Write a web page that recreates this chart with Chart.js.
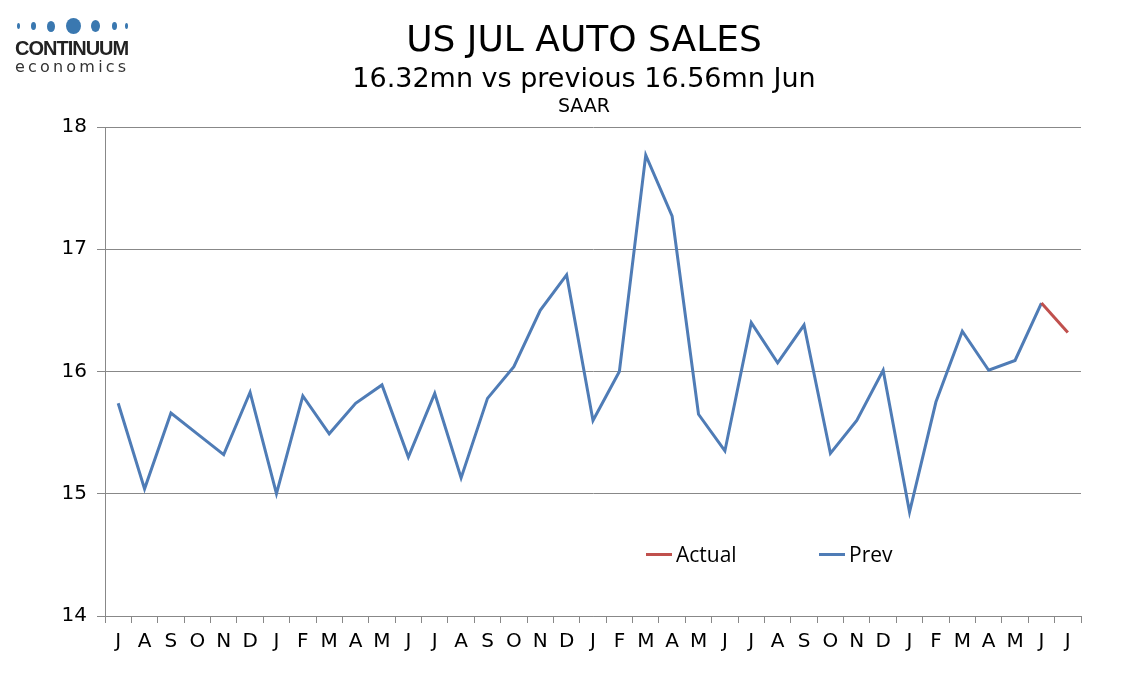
<!DOCTYPE html>
<html>
<head>
<meta charset="utf-8">
<script src="https://cdn.jsdelivr.net/npm/chart.js@4/dist/chart.umd.min.js"></script>
<style>
  html, body { margin: 0; padding: 0; background: #fff; }
  #wrap { position: relative; width: 1134px; height: 680px; font-family: "DejaVu Sans", Verdana, sans-serif; color: #000; }
  canvas { position: absolute; left: 0; top: 0; }
  .t { position: absolute; left: 0; width: 1168px; text-align: center; white-space: nowrap; }
  #title { top: 18px; font-size: 36px; }
  #sub { top: 62px; font-size: 27px; }
  #saar { top: 94px; font-size: 19px; }
  #logo { position: absolute; left: 15px; top: 17px; width: 118px; }
  #dots { position: relative; height: 18px; }
  #dots span { position: absolute; background: #3a78b0; border-radius: 50%; }
  #brand { font-family: "Liberation Sans", Arial, sans-serif; font-weight: bold; font-size: 20px; letter-spacing: -1px; color: #222; line-height: 20px; margin-top: 3px; }
  #econ { font-family: "DejaVu Sans", sans-serif; font-size: 16px; letter-spacing: 3.2px; color: #333; line-height: 17px; }
  .leg { position: absolute; top: 540px; font-size: 21px; font-family: "Open Sans", "DejaVu Sans", sans-serif; display: flex; align-items: center; }
  .leg i { display: inline-block; width: 26px; height: 3px; margin-right: 4px; }
</style>
</head>
<body>
<div id="wrap">
  <canvas id="c" width="1134" height="680"></canvas>
  <div id="logo">
    <div id="dots"></div>
    <div id="brand">CONTINUUM</div>
    <div id="econ">economics</div>
  </div>
  <div class="t" id="title">US JUL AUTO SALES</div>
  <div class="t" id="sub">16.32mn vs previous 16.56mn Jun</div>
  <div class="t" id="saar">SAAR</div>
  <div class="leg" style="left:646px"><i style="background:#c0504d"></i>Actual</div>
  <div class="leg" style="left:819px"><i style="background:#4f7cb6"></i>Prev</div>
</div>
<script>
const months = ['J','A','S','O','N','D','J','F','M','A','M','J','J','A','S','O','N','D',
  'J','F','M','A','M','J','J','A','S','O','N','D','J','F','M','A','M','J','J'];

const prevValues = [15.74, 15.04, 15.66, 15.49, 15.32, 15.83, 15.00, 15.80, 15.49, 15.74,
  15.89, 15.30, 15.82, 15.13, 15.78, 16.04, 16.50, 16.79, 15.60, 16.00, 17.77, 17.27,
  15.65, 15.35, 16.40, 16.07, 16.38, 15.33, 15.60, 16.01, 14.85, 15.75, 16.33, 16.01,
  16.09, 16.56, null];

const actualValues = [null, null, null, null, null, null, null, null, null, null, null,
  null, null, null, null, null, null, null, null, null, null, null, null, null, null,
  null, null, null, null, null, null, null, null, null, null, 16.56, 16.32];

const yTicks = [14, 15, 16, 17, 18];

// logo dots
const dotSpecs = [[2, 3, 6], [16, 5, 8], [32, 8, 11], [51, 15, 16], [76, 9, 12], [97, 5, 8], [110, 3, 6]];
const dots = document.getElementById('dots');
dotSpecs.forEach(([x, w, h]) => {
  const s = document.createElement('span');
  s.style.left = x + 'px';
  s.style.width = w + 'px';
  s.style.height = h + 'px';
  s.style.top = (9 - h / 2) + 'px';
  dots.appendChild(s);
});

const ctx = document.getElementById('c').getContext('2d');
new Chart(ctx, {
  type: 'line',
  data: {
    labels: months,
    datasets: [
      {
        label: 'Prev',
        data: prevValues,
        borderColor: '#4f7cb6',
        borderWidth: 3,
        pointRadius: 0,
        tension: 0,
        order: 2
      },
      {
        label: 'Actual',
        data: actualValues,
        borderColor: '#c0504d',
        borderWidth: 3,
        pointRadius: 0,
        tension: 0,
        order: 1
      }
    ]
  },
  options: {
    responsive: false,
    animation: false,
    layout: { padding: { left: 0, right: 53, top: 127, bottom: 0 } },
    plugins: {
      legend: { display: false },
      tooltip: { enabled: false }
    },
    scales: {
      x: {
        offset: true,
        grid: {
          offset: true,
          drawOnChartArea: false,
          drawTicks: true,
          tickLength: 7,
          color: '#888'
        },
        border: { color: '#888', width: 1 },
        ticks: {
          color: '#000',
          padding: 7,
          maxRotation: 0,
          autoSkip: false,
          font: { family: 'DejaVu Sans', size: 20 }
        },
        afterFit: scale => { scale.height = 64; }
      },
      y: {
        min: 14,
        max: 18,
        afterBuildTicks: scale => { scale.ticks = yTicks.map(v => ({ value: v })); },
        grid: {
          color: '#888',
          tickLength: 8
        },
        border: { color: '#888', width: 1 },
        ticks: {
          color: '#000',
          padding: 10,
          font: { family: 'DejaVu Sans', size: 20 }
        },
        afterFit: scale => { scale.width = 105; }
      }
    }
  }
});
</script>
</body>
</html>
